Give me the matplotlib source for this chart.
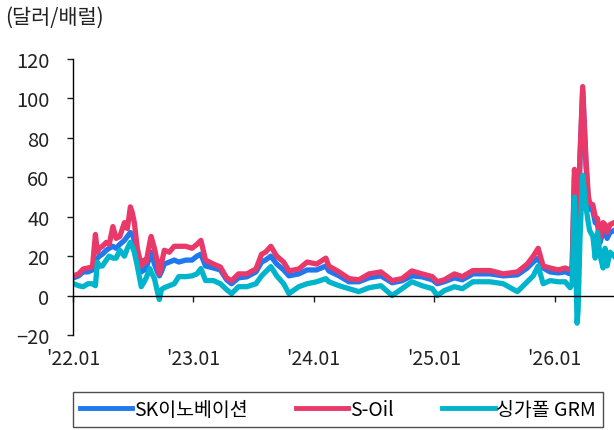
import pandas as pd
import matplotlib
matplotlib.use('Agg')
import matplotlib.pyplot as plt

plt.rcParams['font.family'] = ['Noto Sans CJK KR', 'DejaVu Sans']
plt.rcParams['font.weight'] = 'light'

# 정제마진 (달러/배럴)
dates = ['2022-01-03', '2022-01-18', '2022-02-01', '2022-02-15', '2022-03-01', '2022-03-10',
         '2022-03-16', '2022-03-22', '2022-03-31', '2022-04-12', '2022-04-21', '2022-05-02',
         '2022-05-12', '2022-05-23', '2022-06-06', '2022-06-15', '2022-06-24', '2022-06-30',
         '2022-07-06', '2022-07-15', '2022-07-27', '2022-08-05', '2022-08-11', '2022-08-22',
         '2022-08-26', '2022-09-05', '2022-09-14', '2022-09-20', '2022-09-26', '2022-10-05',
         '2022-10-20', '2022-11-04', '2022-11-18', '2022-12-09', '2022-12-28', '2023-01-12',
         '2023-01-24', '2023-02-07', '2023-03-03', '2023-03-24', '2023-04-12', '2023-04-27',
         '2023-05-18', '2023-06-12', '2023-07-10', '2023-07-27', '2023-08-08', '2023-08-24',
         '2023-09-11', '2023-10-02', '2023-10-18', '2023-11-17', '2023-12-12', '2024-01-10',
         '2024-02-07', '2024-02-16', '2024-03-18', '2024-04-17', '2024-05-17', '2024-06-17',
         '2024-07-23', '2024-08-26', '2024-09-25', '2024-10-25', '2024-11-25', '2024-12-26',
         '2025-01-10', '2025-01-31', '2025-03-03', '2025-03-27', '2025-04-28', '2025-06-19',
         '2025-07-29', '2025-09-10', '2025-10-10', '2025-10-28', '2025-11-12', '2025-11-27',
         '2025-12-18', '2026-01-12', '2026-02-02', '2026-02-17', '2026-02-23', '2026-03-02',
         '2026-03-10', '2026-03-13', '2026-03-19', '2026-03-27', '2026-04-06', '2026-04-13',
         '2026-04-17', '2026-04-27', '2026-05-04', '2026-05-11', '2026-05-19', '2026-05-28',
         '2026-06-03', '2026-06-09', '2026-06-18', '2026-06-30']

sk = [9, 10, 12, 12, 13, 18,
      19, 20, 21, 23, 24, 25,
      24, 26, 28, 30, 32, 31,
      28, 20, 12, 13, 14, 20,
      22, 16, 12, 10, 12, 16,
      17, 18, 17, 18, 18, 20,
      21, 15, 14, 13, 8, 6,
      9, 9.5, 12, 17, 18, 20,
      16, 13, 10, 11, 13, 13,
      15, 12.5, 10, 7, 7, 9,
      10, 6.5, 7.5, 10, 9.5, 8,
      6, 7, 9, 8, 11, 11,
      10, 10.5, 14, 17, 19, 14,
      12, 11.5, 12, 11, 13, 60,
      38, 34, 70, 104, 66, 48,
      44, 43, 37, 36, 27, 33,
      33, 29, 32, 33]

soil = [10, 11, 13.5, 14, 14.5, 31,
        22, 24, 25, 27, 26, 35,
        29, 30, 37, 34, 45, 42,
        37, 24, 15, 18, 17, 27,
        30, 24, 17, 11, 16, 23,
        22, 25, 25, 25, 24, 26,
        28, 18, 16, 14.5, 9, 7.5,
        11, 11, 13.5, 21, 22, 25,
        20, 17, 12.5, 13.5, 17, 16,
        19, 15, 12, 8.6, 8, 11,
        12, 7.6, 8.6, 12.5, 11, 9.6,
        7, 8, 11, 9.6, 12.7, 12.7,
        11, 12, 16, 20, 24, 15,
        14, 13, 14, 13, 15, 64,
        40, 36, 72, 106, 69, 51,
        47, 46, 40, 39, 29, 37,
        36, 32, 36, 37]

grm = [6, 5, 4.5, 6, 6, 5,
       17, 15, 15, 18, 20, 19,
       19, 23, 20, 24, 27, 25,
       22, 15, 4.5, 7, 9, 13.7,
       12, 8.6, 2, -2, 3, 4,
       5, 6, 9.6, 9.6, 10, 11,
       13.7, 7.6, 7.6, 6, 3, 1,
       4.5, 4.5, 6, 10, 12, 14.7,
       10, 6, 1, 4.5, 6, 7,
       8.6, 7, 5, 3.5, 2, 4,
       5, 0, 3.5, 7, 5, 3.5,
       0, 2.5, 4.5, 3.5, 7, 7,
       6, 2, 7, 10, 15, 6,
       7.6, 7, 7, 4, 6, 50,
       -14, -8, 30, 61, 45, 37,
       33, 30, 19, 32, 20, 14,
       24, 15, 22, 20]

labels = ['SK이노베이션', 'S-Oil', '싱가폴 GRM']
colors = ['#1f78ee', '#e8396a', '#00b4cc']
xticks = ['2022-01-01', '2023-01-01', '2024-01-01', '2025-01-01', '2026-01-01']
xticklabels = ["'22.01", "'23.01", "'24.01", "'25.01", "'26.01"]

df = pd.DataFrame({'date': pd.to_datetime(dates), 'sk': sk, 'soil': soil, 'grm': grm})

fig = plt.figure(figsize=(6.14, 4.31), dpi=100)
ax = fig.add_axes([73 / 614, 1 - 336 / 431, 1 - 73 / 614, (336 - 60) / 431])

for col, lab, c in zip(['sk', 'soil', 'grm'], labels, colors):
    ax.plot(df['date'], df[col], color=c, lw=3.8, label=lab, solid_joinstyle='round')

ax.set_ylim(-20, 120)
ax.set_yticks(range(-20, 121, 20))
ax.set_yticklabels(['\u221220'] + [str(v) for v in range(0, 121, 20)])
ax.set_xlim(pd.Timestamp('2022-01-01'), pd.Timestamp('2026-06-30'))
ax.set_xticks(pd.to_datetime(xticks))
ax.set_xticklabels(xticklabels)

for s in ['top', 'right']:
    ax.spines[s].set_visible(False)
ax.spines['bottom'].set_position(('data', 0))
ax.spines['left'].set_linewidth(1.0)
ax.spines['bottom'].set_linewidth(1.0)

ax.tick_params(axis='y', direction='out', length=4, width=1, labelsize=14.5,
               colors='#222222', pad=13)
ax.tick_params(axis='x', direction='out', length=4, width=1, labelsize=14,
               colors='#222222', pad=34)
ax.patch.set_alpha(0)

fig.text(5 / 614, 1 - 18 / 431, '(달러/배럴)', fontsize=15, color='#222222',
         ha='left', va='center')

leg = fig.legend(loc='lower left', bbox_to_anchor=(73 / 614, 1 - 428 / 431, (603 - 73) / 614, 39 / 431),
                 mode='expand', ncol=3, fontsize=14, frameon=True, fancybox=False,
                 handlelength=2.7, handletextpad=0.1, borderaxespad=0, borderpad=0.35,
                 columnspacing=1.0)
leg.get_frame().set_edgecolor('#222222')
leg.get_frame().set_linewidth(1.0)
for line in leg.get_lines():
    line.set_linewidth(3.5)

fig.savefig('out.png', dpi=100)
